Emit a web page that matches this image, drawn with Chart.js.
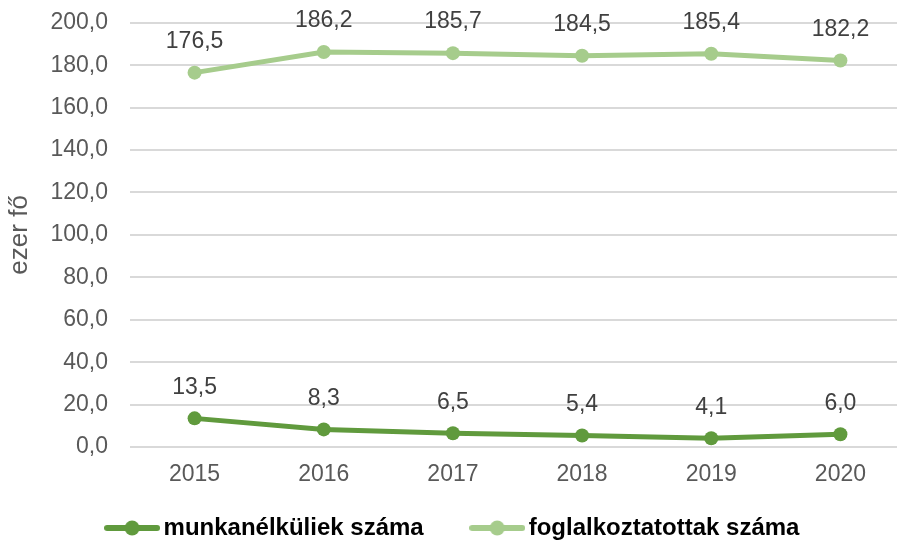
<!DOCTYPE html>
<html>
<head>
<meta charset="utf-8">
<script src="https://cdn.jsdelivr.net/npm/chart.js@4/dist/chart.umd.min.js"></script>
<style>
  html, body { margin: 0; padding: 0; background: #fff; overflow: hidden; }
  #wrap { width: 897px; height: 540px; overflow: hidden; }
  #chart { display: block; margin-top: -13px; }
</style>
</head>
<body>
<div id="wrap"><canvas id="chart" width="912" height="563"></canvas></div>
<script>
// Chart data
const years = ['2015', '2016', '2017', '2018', '2019', '2020'];
const unemployed = [13.5, 8.3, 6.5, 5.4, 4.1, 6.0];
const employed = [176.5, 186.2, 185.7, 184.5, 185.4, 182.2];
const seriesNames = ['munkanélküliek száma', 'foglalkoztatottak száma'];

const darkGreen = '#609a3d';
const lightGreen = '#a6cc8c';
const baseFont = '"Liberation Sans", Arial, sans-serif';
const fmt = v => v.toFixed(1).replace('.', ',');

// Legend marker: short line with a dot in the middle
function makeMarker(color) {
  const c = document.createElement('canvas');
  c.width = 56; c.height = 16;
  const g = c.getContext('2d');
  g.strokeStyle = color;
  g.lineWidth = 6;
  g.lineCap = 'round';
  g.beginPath(); g.moveTo(3, 8); g.lineTo(53, 8); g.stroke();
  g.fillStyle = color;
  g.beginPath(); g.arc(28, 8, 7.5, 0, Math.PI * 2); g.fill();
  return c;
}

// Value labels above each point
const valueLabels = {
  id: 'valueLabels',
  afterDatasetsDraw(chart) {
    const ctx = chart.ctx;
    ctx.save();
    ctx.font = '23px ' + baseFont;
    ctx.fillStyle = '#404040';
    ctx.textAlign = 'center';
    ctx.textBaseline = 'middle';
    chart.data.datasets.forEach((ds, i) => {
      chart.getDatasetMeta(i).data.forEach((pt, j) => {
        ctx.fillText(fmt(ds.data[j]), pt.x, pt.y - 31);
      });
    });
    ctx.restore();
  }
};

const ctx = document.getElementById('chart').getContext('2d');
new Chart(ctx, {
  type: 'line',
  data: {
    labels: years,
    datasets: [
      {
        label: seriesNames[0],
        data: unemployed,
        borderColor: darkGreen,
        backgroundColor: darkGreen,
        borderWidth: 5,
        pointRadius: 7,
        pointBorderWidth: 0,
        tension: 0
      },
      {
        label: seriesNames[1],
        data: employed,
        borderColor: lightGreen,
        backgroundColor: lightGreen,
        borderWidth: 5,
        pointRadius: 7,
        pointBorderWidth: 0,
        tension: 0
      }
    ]
  },
  options: {
    responsive: false,
    animation: false,
    layout: { padding: 0 },
    plugins: {
      tooltip: { enabled: false },
      legend: {
        position: 'bottom',
        labels: {
          usePointStyle: true,
          pointStyleWidth: 39,
          padding: 6,
          color: '#000',
          font: { family: baseFont, size: 24, weight: 'bold' },
          // trailing em spaces give the wide gap between the two entries
          generateLabels: chart => chart.data.datasets.map((ds, i) => ({
            text: i === 0 ? ds.label + '\u2003\u2003' : ds.label,
            pointStyle: makeMarker(ds.borderColor),
            fillStyle: ds.borderColor,
            strokeStyle: ds.borderColor,
            lineWidth: 0,
            hidden: false,
            datasetIndex: i
          }))
        }
      }
    },
    scales: {
      x: {
        offset: true,
        afterFit: scale => { scale.height = 63; },
        grid: { display: false, drawTicks: false },
        border: { display: false },
        ticks: {
          color: '#595959',
          padding: 14,
          font: { family: baseFont, size: 23 }
        }
      },
      y: {
        min: 0,
        max: 200,
        afterFit: scale => { scale.width = 130; },
        grid: { color: '#d9d9d9', lineWidth: 2, drawTicks: false },
        border: { display: false },
        ticks: {
          stepSize: 20,
          padding: 22,
          color: '#595959',
          font: { family: baseFont, size: 23 },
          callback: v => fmt(v)
        },
        title: {
          display: true,
          text: 'ezer fő',
          color: '#595959',
          padding: 4,
          font: { family: baseFont, size: 26 }
        }
      }
    }
  },
  plugins: [valueLabels]
});
</script>
</body>
</html>
